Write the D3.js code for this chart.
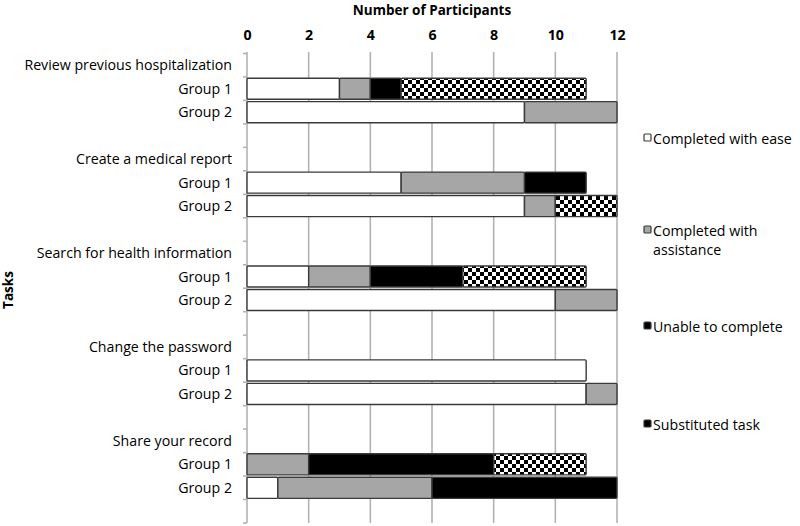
<!DOCTYPE html>
<html><head><meta charset="utf-8">
<script src="https://cdn.jsdelivr.net/npm/d3@7"></script>
<style>body{margin:0;background:#fff}svg{display:block}text{font-family:"Open Sans",sans-serif}</style>
</head><body><svg id="c" width="800" height="526"></svg>
<script>
const tasks = ["Review previous hospitalization","Create a medical report","Search for health information","Change the password","Share your record"];
const groups = ["Group 1","Group 2"];
const outcomes = ["Completed with ease","Completed with assistance","Unable to complete","Substituted task"];
// values per task, [Group1, Group2], each [ease, assistance, unable, substituted]
const reviewVals = [[3,1,1,6],[9,3,0,0]];
const reportVals = [[5,4,2,0],[9,1,0,2]];
const searchVals = [[2,2,3,4],[10,2,0,0]];
const passwordVals = [[11,0,0,0],[11,1,0,0]];
const shareVals = [[0,2,6,3],[1,5,6,0]];
const allVals = [reviewVals,reportVals,searchVals,passwordVals,shareVals];
const xTicks = [0,2,4,6,8,10,12];

const svg = d3.select("#c");
const defs = svg.append("defs");
const pat = defs.append("pattern").attr("id","chk").attr("patternUnits","userSpaceOnUse")
  .attr("width",8).attr("height",8);
pat.append("rect").attr("width",8).attr("height",8).attr("fill","#fff");
pat.append("rect").attr("width",4).attr("height",4).attr("fill","#000");
pat.append("rect").attr("x",4).attr("y",4).attr("width",4).attr("height",4).attr("fill","#000");
const fills = ["#ffffff","#a6a6a6","#000000","url(#chk)"];

// rows: label, G1, G2, blank for each task
const rows = [];
tasks.forEach((t,i)=>{ rows.push("T"+i); rows.push("G1_"+i); rows.push("G2_"+i); rows.push("B"+i); });

const x = d3.scaleLinear().domain([0,12]).range([247,617]);
const y = d3.scaleBand().domain(rows).range([53.5,523]).paddingInner(0).paddingOuter(0);
const bw = y.bandwidth();
const FS = 14.2;

// gridlines
svg.append("g").selectAll("line").data(xTicks).join("line")
  .attr("x1",d=>x(d)).attr("x2",d=>x(d)).attr("y1",52).attr("y2",523)
  .attr("stroke","#b3b3b3").attr("stroke-width",1.6);

// left axis ticks at band boundaries
const bounds = rows.map(r=>y(r)).concat([y.range()[1]]);
svg.append("g").selectAll("line").data(bounds).join("line")
  .attr("x1",243).attr("x2",247).attr("y1",d=>d).attr("y2",d=>d)
  .attr("stroke","#b3b3b3").attr("stroke-width",1.6);

// top axis labels
const xa = svg.append("g").attr("transform","translate(0,40)")
  .call(d3.axisTop(x).tickValues(xTicks).tickSize(0).tickPadding(0));
xa.select(".domain").remove();
xa.selectAll("text").attr("font-size",FS).attr("font-weight","bold").attr("fill","#000")
  .attr("font-family","'Open Sans',sans-serif");

svg.append("text").attr("x",432).attr("y",15).attr("text-anchor","middle")
  .attr("font-size",13.5).attr("font-weight","bold").text("Number of Participants");
svg.append("text").attr("transform","translate(13,290) rotate(-90)").attr("text-anchor","middle")
  .attr("font-size",13.5).attr("font-weight","bold").text("Tasks");

// category labels
const labs = svg.append("g").attr("font-size",FS).attr("text-anchor","end");
tasks.forEach((t,i)=>{
  labs.append("text").attr("x",232).attr("y",y("T"+i)+bw/2+5).text(t);
  groups.forEach((g,j)=>{
    labs.append("text").attr("x",232).attr("y",y("G"+(j+1)+"_"+i)+bw/2+5).text(g);
  });
});

// bars
const barG = svg.append("g");
allVals.forEach((gv,i)=>{
  gv.forEach((vals,j)=>{
    const key = "G"+(j+1)+"_"+i;
    let acc = 0;
    const segs = vals.map((v,k)=>{ const s={k, x0:acc, x1:acc+v}; acc+=v; return s; }).filter(s=>s.x1>s.x0);
    barG.selectAll(null).data(segs).join("rect")
      .attr("x",s=>x(s.x0)).attr("width",s=>x(s.x1)-x(s.x0))
      .attr("y",y(key)+1.2).attr("height",bw-2.4)
      .attr("fill",s=>fills[s.k]).attr("stroke","#3a3a3a").attr("stroke-width",1.4).attr("rx",1);
  });
});

// legend
const legY = [139,231,327,425];
const legLines = [["Completed with ease"],["Completed with","assistance"],["Unable to complete"],["Substituted task"]];
const leg = svg.append("g");
outcomes.forEach((o,k)=>{
  leg.append("rect").attr("x",644).attr("y",legY[k]-5).attr("width",7).attr("height",7)
    .attr("fill",fills[k]==="url(#chk)"?"#000":fills[k]).attr("stroke","#3a3a3a").attr("stroke-width",1.2).attr("rx",1);
  legLines[k].forEach((ln,m)=>{
    leg.append("text").attr("x",653).attr("y",legY[k]+5+m*19).attr("font-size",FS).text(ln);
  });
});
</script></body></html>
